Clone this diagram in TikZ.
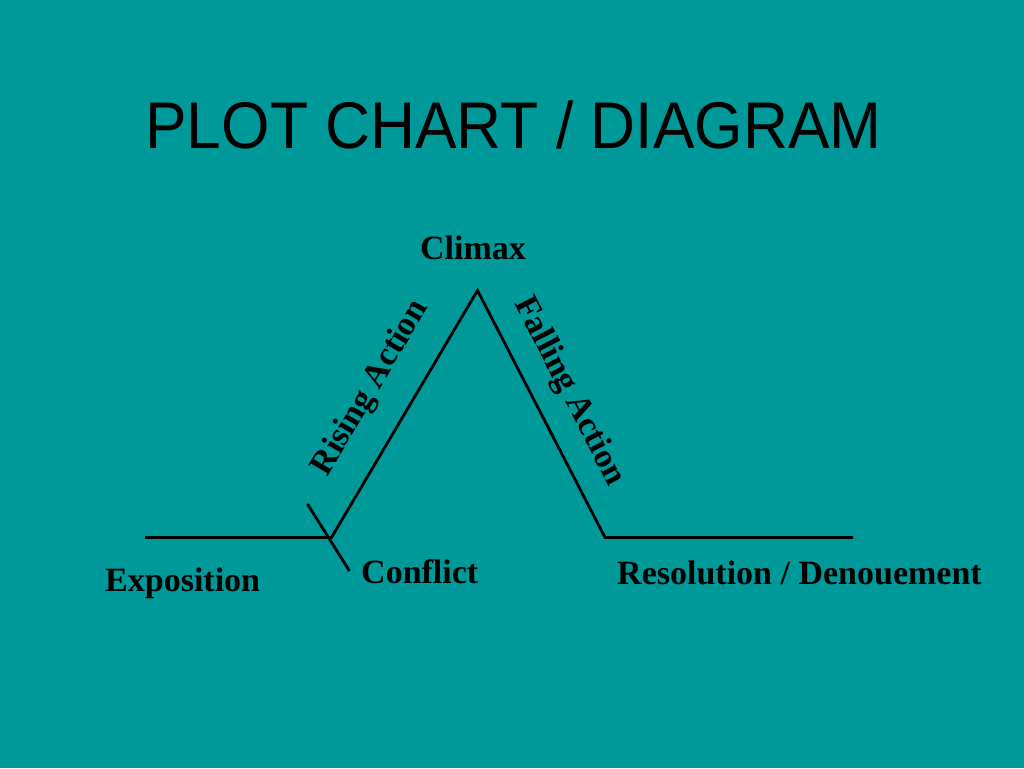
\documentclass[tikz,border=0pt]{standalone}
\usepackage{fontspec}
\setmainfont{Liberation Serif}
\newfontfamily\titlefont{Liberation Sans}
\definecolor{bgteal}{RGB}{0,153,153}
\tikzset{
  plotline/.style={line width=2.8pt, black, line join=miter},
  lbl/.style={inner sep=0pt, font=\bfseries\fontsize{34}{39}\selectfont, text=black},
  ttl/.style={inner sep=0pt, font=\titlefont\fontsize{66}{72}\selectfont, text=black}
}
\begin{document}
\begin{tikzpicture}[x=1pt,y=-1pt]
\fill[bgteal] (0,0) rectangle (1024,768);
\useasboundingbox (0,0) rectangle (1024,768);
% title
\node[ttl, anchor=base] (title) at (513.5,148.5) {\scalebox{0.944}[1]{PLOT CHART / DIAGRAM}};
% plot points
\coordinate (start) at (145,537.5);
\coordinate (conf) at (331.5,537.5);
\coordinate (peak) at (477.5,290.5);
\coordinate (resol) at (605,537.5);
\coordinate (stop) at (853,537.5);
\coordinate (tickA) at (307.5,504);
\coordinate (tickB) at (349.5,571);
\draw[plotline] (start) -- (conf) -- (peak) -- (resol) -- (stop);
\draw[plotline] (tickA) -- (tickB);
% labels
\node[lbl, anchor=base] (climax) at (473,259) {Climax};
\node[lbl, anchor=base west] (expo) at (105,591.5) {Exposition};
\node[lbl, anchor=base west] (conflict) at (361,583.5) {Conflict};
\node[lbl, anchor=base west] (resolution) at (617,584) {Resolution / Denouement};
\node[lbl, rotate=59.4] (rising) at (371,388) {Rising Action};
\node[lbl, rotate=-62.6] (falling) at (569,391.5) {Falling Action};
\end{tikzpicture}
\end{document}
